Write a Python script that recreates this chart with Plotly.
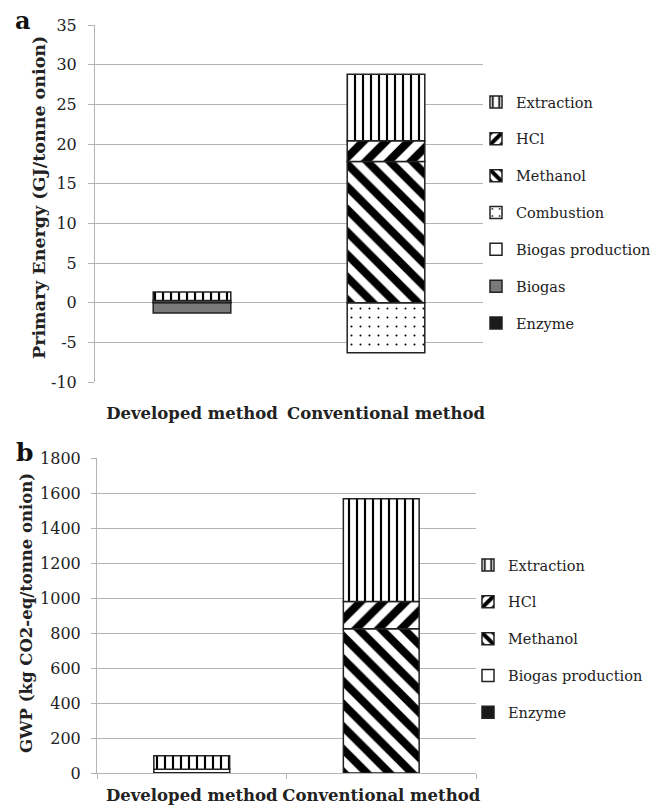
import plotly.graph_objects as go

categories = ["Developed method", "Conventional method"]

# Panel a: Primary energy (GJ/tonne onion)
a_series = ["Enzyme", "Biogas", "Biogas production", "Combustion", "Methanol", "HCl", "Extraction"]
a_values = {
    "Enzyme": [0.03, 0.0],
    "Biogas": [-1.3, 0.0],
    "Biogas production": [0.25, 0.0],
    "Combustion": [0.0, -6.3],
    "Methanol": [0.0, 17.8],
    "HCl": [0.0, 2.6],
    "Extraction": [1.05, 8.4],
}
a_ticks = [-10, -5, 0, 5, 10, 15, 20, 25, 30, 35]
a_ticktext = ["-10", "-5", "0", "5", "10", "15", "20", "25", "30", "35"]
a_title = "Primary Energy (GJ/tonne onion)"

# Panel b: GWP (kg CO2-eq/tonne onion)
b_series = ["Enzyme", "Biogas production", "Methanol", "HCl", "Extraction"]
b_values = {
    "Enzyme": [2, 0],
    "Biogas production": [20, 0],
    "Methanol": [0, 824],
    "HCl": [0, 156],
    "Extraction": [77, 587],
}
b_ticks = [0, 200, 400, 600, 800, 1000, 1200, 1400, 1600, 1800]
b_ticktext = [str(t) for t in b_ticks]
b_title = "GWP (kg CO2-eq/tonne onion)"

FONT = "DejaVu Serif"
EDGE = "#222222"
GRID = "#b4b4b4"

styles = {
    "Enzyme": dict(color="#1a1a1a"),
    "Biogas": dict(color="#7a7a7a"),
    "Biogas production": dict(color="white"),
    "Combustion": dict(color="white", pattern=dict(shape=".", fgcolor="#000", bgcolor="white", fgopacity=1, size=9, solidity=0.04)),
    "Methanol": dict(color="white", pattern=dict(shape="\\", fgcolor="#000", bgcolor="white", fgopacity=1, size=16, solidity=0.5)),
    "HCl": dict(color="white", pattern=dict(shape="/", fgcolor="#000", bgcolor="white", fgopacity=1, size=16, solidity=0.5)),
    "Extraction": dict(color="white", pattern=dict(shape="|", fgcolor="#000", bgcolor="white", fgopacity=1, size=8, solidity=0.27)),
}

fig = go.Figure()

for i, name in enumerate(a_series):
    fig.add_trace(go.Bar(
        x=categories, y=a_values[name], name=name,
        xaxis="x", yaxis="y", legend="legend", legendgroup="a_" + name,
        legendrank=len(a_series) - i,
        marker=dict(line=dict(color=EDGE, width=1.5), **styles[name]),
    ))
for i, name in enumerate(b_series):
    fig.add_trace(go.Bar(
        x=categories, y=b_values[name], name=name,
        xaxis="x2", yaxis="y2", legend="legend2", legendgroup="b_" + name,
        legendrank=len(b_series) - i,
        marker=dict(line=dict(color=EDGE, width=1.5), **styles[name]),
    ))

axis_font = dict(family=FONT, size=16, color="#222")
cat_font = dict(family=FONT, size=16.5, color="#222", weight="bold")
title_font_a = dict(family=FONT, size=17.5, color="#222", weight="bold")
title_font_b = dict(family=FONT, size=16.5, color="#222", weight="bold")

legend_common = dict(
    font=dict(family=FONT, size=14.5, color="#222"),
    traceorder="grouped", tracegroupgap=15,
    bgcolor="rgba(0,0,0,0)", xanchor="left", yanchor="top",
    itemwidth=30,
)

W, H = 665, 805


def px_x(v):
    return v / W


def px_y(v):
    return 1 - v / H


fig.update_layout(
    width=W, height=H,
    margin=dict(l=0, r=0, t=0, b=0, autoexpand=False),
    paper_bgcolor="white", plot_bgcolor="white",
    barmode="relative", bargap=0.6,
    showlegend=True,
    xaxis=dict(domain=[px_x(87), px_x(475)], anchor="y", tickfont=cat_font, tickangle=0,
               showgrid=False, ticks="outside", ticklen=16, tickcolor="rgba(0,0,0,0)",
               showline=False, automargin=False),
    yaxis=dict(domain=[px_y(374), px_y(17)], anchor="x", range=[-10, 35],
               tickvals=a_ticks, ticktext=a_ticktext, tickfont=axis_font,
               showgrid=True, gridcolor=GRID, gridwidth=1,
               zeroline=True, zerolinecolor=GRID, zerolinewidth=1,
               showline=True, linecolor=GRID, linewidth=1,
               ticks="outside", ticklen=6, tickcolor=GRID, automargin=False,
               ticklabelstandoff=8),
    xaxis2=dict(domain=[px_x(89), px_x(468)], anchor="y2", tickfont=cat_font, tickangle=0,
                showgrid=False, ticks="outside", ticklen=5, tickcolor=GRID,
                tickson="boundaries", showline=True, linecolor=GRID, linewidth=1,
                ticklabelstandoff=7, automargin=False),
    yaxis2=dict(domain=[px_y(765), px_y(450)], anchor="x2", range=[0, 1800],
                tickvals=b_ticks, ticktext=b_ticktext, tickfont=axis_font,
                showgrid=True, gridcolor=GRID, gridwidth=1,
                zeroline=False,
                showline=True, linecolor=GRID, linewidth=1,
                ticks="outside", ticklen=5, tickcolor=GRID, automargin=False,
                ticklabelstandoff=7),
    legend=dict(x=px_x(468), y=px_y(78), **legend_common),
    legend2=dict(x=px_x(460), y=px_y(541), **legend_common),
    annotations=[
        dict(text="<b>a</b>", x=px_x(5), y=px_y(13), xref="paper", yref="paper",
             xanchor="left", yanchor="middle", showarrow=False,
             font=dict(family=FONT, size=24, color="#111")),
        dict(text="<b>b</b>", x=px_x(6), y=px_y(444), xref="paper", yref="paper",
             xanchor="left", yanchor="middle", showarrow=False,
             font=dict(family=FONT, size=25, color="#111")),
        dict(text=a_title, x=px_x(31), y=px_y(190), xref="paper", yref="paper",
             xanchor="center", yanchor="middle", textangle=-90, showarrow=False,
             font=title_font_a),
        dict(text=b_title, x=px_x(18), y=px_y(605), xref="paper", yref="paper",
             xanchor="center", yanchor="middle", textangle=-90, showarrow=False,
             font=title_font_b),
    ],
)

fig.write_html("out.html")
